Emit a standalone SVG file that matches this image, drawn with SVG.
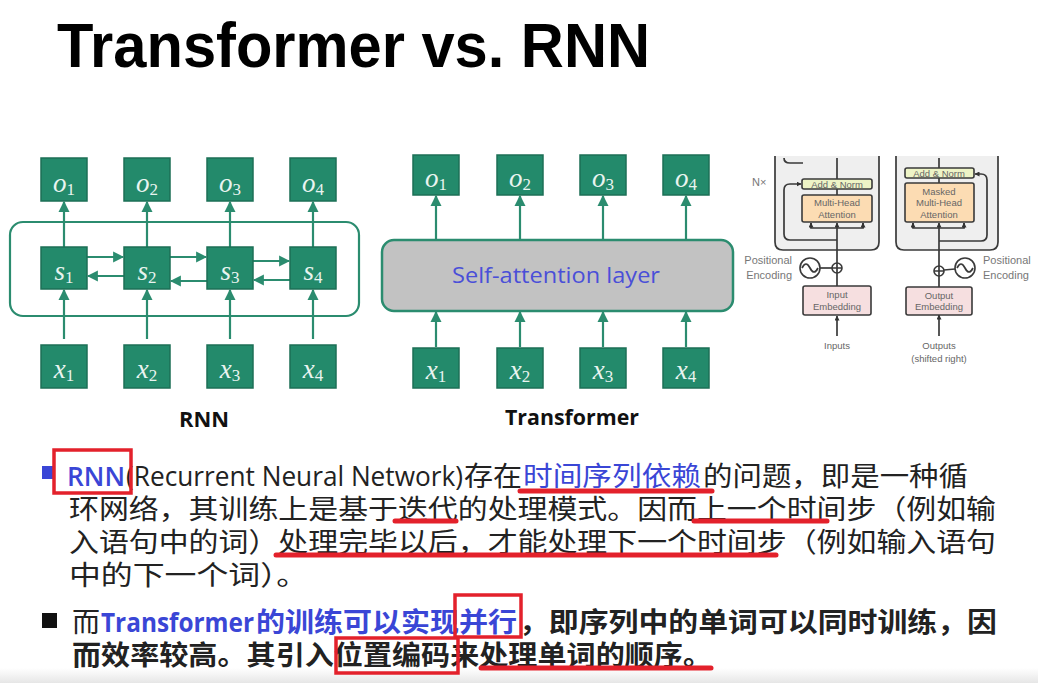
<svg xmlns="http://www.w3.org/2000/svg" width="1038" height="683" viewBox="0 0 1038 683">
<style>
.bx{fill:#238a6b;stroke:#1c6f56;stroke-width:1.5}
.lb{font-family:"Liberation Serif","DejaVu Serif",serif;font-style:italic;font-size:27px;fill:#e9f4f0;text-anchor:middle}
.sub{font-style:normal;font-size:17px}
.cn{stroke:#2b8c6f;stroke-width:2.2;fill:none}
.cap{font-family:"Open Sans","Liberation Sans",sans-serif;font-weight:bold;font-size:21px;fill:#111;text-anchor:middle}
.fg{fill:none;stroke:#3a3a3a;stroke-width:1.7}
.ft{font-family:"Liberation Sans",sans-serif;font-size:9.5px;fill:#666;text-anchor:middle}
.fl{font-family:"Liberation Sans",sans-serif;font-size:11px;fill:#777}
.p{font-family:"Noto Sans CJK SC","Noto Sans",sans-serif;font-size:27px;fill:#222}
.pl{font-family:"Open Sans","Noto Sans",sans-serif;font-size:27px;fill:#222}
.bl{fill:#3a46d6}
.b{font-weight:bold}
.sb{font-weight:600}
.rb{fill:none;stroke:#e3212b;stroke-width:3.5}
.ru{stroke:#e3212b;stroke-width:5;stroke-linecap:round;fill:none}
</style>
<defs>
<marker id="ah" viewBox="0 0 10 10" refX="9" refY="5" markerUnits="userSpaceOnUse" markerWidth="11" markerHeight="13" orient="auto"><path d="M0,0 L10,5 L0,10 z" fill="#2b8c6f"/></marker>
<marker id="sa" viewBox="0 0 10 10" refX="9" refY="5" markerUnits="userSpaceOnUse" markerWidth="5" markerHeight="5" orient="auto"><path d="M0,0 L10,5 L0,10 z" fill="#333"/></marker>
<linearGradient id="bot" x1="0" y1="0" x2="0" y2="1"><stop offset="0" stop-color="#ffffff"/><stop offset="1" stop-color="#e6e6e6"/></linearGradient>
</defs>
<rect width="1038" height="683" fill="#ffffff"/>
<rect x="0" y="668" width="1038" height="15" fill="url(#bot)"/>

<text x="57" y="67" font-family="Liberation Sans,Arial,sans-serif" font-weight="bold" font-size="63" fill="#000" textLength="593" lengthAdjust="spacingAndGlyphs">Transformer vs. RNN</text>

<!-- RNN -->
<g id="rnn-container"><rect x="10" y="222" width="349" height="94" rx="13" fill="none" stroke="#2b8c6f" stroke-width="2.2"/></g>
<g id="connectors">
<line class="cn" x1="64" y1="247" x2="64" y2="202" marker-end="url(#ah)"/>
<line class="cn" x1="147" y1="247" x2="147" y2="202" marker-end="url(#ah)"/>
<line class="cn" x1="230" y1="247" x2="230" y2="202" marker-end="url(#ah)"/>
<line class="cn" x1="313" y1="247" x2="313" y2="202" marker-end="url(#ah)"/>
<line class="cn" x1="64" y1="339" x2="64" y2="290" marker-end="url(#ah)"/>
<line class="cn" x1="147" y1="339" x2="147" y2="290" marker-end="url(#ah)"/>
<line class="cn" x1="230" y1="339" x2="230" y2="290" marker-end="url(#ah)"/>
<line class="cn" x1="313" y1="339" x2="313" y2="290" marker-end="url(#ah)"/>
<line class="cn" x1="87" y1="257" x2="123" y2="257" marker-end="url(#ah)"/>
<line class="cn" x1="170" y1="257" x2="206" y2="257" marker-end="url(#ah)"/>
<line class="cn" x1="253" y1="261" x2="289" y2="261" marker-end="url(#ah)"/>
<line class="cn" x1="124" y1="276" x2="88" y2="276" marker-end="url(#ah)"/>
<line class="cn" x1="207" y1="281" x2="171" y2="281" marker-end="url(#ah)"/>
<line class="cn" x1="290" y1="280" x2="254" y2="280" marker-end="url(#ah)"/>
<line class="cn" x1="436" y1="240" x2="436" y2="196" marker-end="url(#ah)"/>
<line class="cn" x1="520" y1="240" x2="520" y2="196" marker-end="url(#ah)"/>
<line class="cn" x1="603" y1="240" x2="603" y2="196" marker-end="url(#ah)"/>
<line class="cn" x1="686" y1="240" x2="686" y2="196" marker-end="url(#ah)"/>
<line class="cn" x1="436" y1="347" x2="436" y2="312" marker-end="url(#ah)"/>
<line class="cn" x1="520" y1="347" x2="520" y2="312" marker-end="url(#ah)"/>
<line class="cn" x1="603" y1="347" x2="603" y2="312" marker-end="url(#ah)"/>
<line class="cn" x1="686" y1="347" x2="686" y2="312" marker-end="url(#ah)"/>
</g>
<g id="rnn-o1"><rect class="bx" x="41" y="158" width="46" height="43"/><text class="lb" x="64" y="192">o<tspan class="sub" dy="3">1</tspan></text></g>
<g id="rnn-o2"><rect class="bx" x="124" y="158" width="46" height="43"/><text class="lb" x="147" y="192">o<tspan class="sub" dy="3">2</tspan></text></g>
<g id="rnn-o3"><rect class="bx" x="207" y="158" width="46" height="43"/><text class="lb" x="230" y="192">o<tspan class="sub" dy="3">3</tspan></text></g>
<g id="rnn-o4"><rect class="bx" x="290" y="158" width="46" height="43"/><text class="lb" x="313" y="192">o<tspan class="sub" dy="3">4</tspan></text></g>
<g id="rnn-s1"><rect class="bx" x="41" y="247" width="46" height="42"/><text class="lb" x="64" y="280">s<tspan class="sub" dy="3">1</tspan></text></g>
<g id="rnn-s2"><rect class="bx" x="124" y="247" width="46" height="42"/><text class="lb" x="147" y="280">s<tspan class="sub" dy="3">2</tspan></text></g>
<g id="rnn-s3"><rect class="bx" x="207" y="247" width="46" height="42"/><text class="lb" x="230" y="280">s<tspan class="sub" dy="3">3</tspan></text></g>
<g id="rnn-s4"><rect class="bx" x="290" y="247" width="46" height="42"/><text class="lb" x="313" y="280">s<tspan class="sub" dy="3">4</tspan></text></g>
<g id="rnn-x1"><rect class="bx" x="41" y="345" width="46" height="43"/><text class="lb" x="64" y="378">x<tspan class="sub" dy="3">1</tspan></text></g>
<g id="rnn-x2"><rect class="bx" x="124" y="345" width="46" height="43"/><text class="lb" x="147" y="378">x<tspan class="sub" dy="3">2</tspan></text></g>
<g id="rnn-x3"><rect class="bx" x="207" y="345" width="46" height="43"/><text class="lb" x="230" y="378">x<tspan class="sub" dy="3">3</tspan></text></g>
<g id="rnn-x4"><rect class="bx" x="290" y="345" width="46" height="43"/><text class="lb" x="313" y="378">x<tspan class="sub" dy="3">4</tspan></text></g>
<g id="rnn-caption"><text class="cap" x="204" y="427" textLength="50" lengthAdjust="spacingAndGlyphs">RNN</text></g>

<!-- Transformer -->
<g id="tf-o1"><rect class="bx" x="413" y="155" width="46" height="40"/><text class="lb" x="436" y="187">o<tspan class="sub" dy="3">1</tspan></text></g>
<g id="tf-o2"><rect class="bx" x="497" y="155" width="46" height="40"/><text class="lb" x="520" y="187">o<tspan class="sub" dy="3">2</tspan></text></g>
<g id="tf-o3"><rect class="bx" x="580" y="155" width="46" height="40"/><text class="lb" x="603" y="187">o<tspan class="sub" dy="3">3</tspan></text></g>
<g id="tf-o4"><rect class="bx" x="663" y="155" width="46" height="40"/><text class="lb" x="686" y="187">o<tspan class="sub" dy="3">4</tspan></text></g>
<g id="tf-attn"><rect x="382" y="240" width="351" height="71" rx="12" fill="#c2c2c2" stroke="#2b8c6f" stroke-width="2.5"/><text x="556" y="283" font-family="Open Sans,Liberation Sans,sans-serif" font-size="22" fill="#4a4fd8" text-anchor="middle" textLength="208" lengthAdjust="spacingAndGlyphs">Self-attention layer</text></g>
<g id="tf-x1"><rect class="bx" x="413" y="348" width="46" height="40"/><text class="lb" x="436" y="379">x<tspan class="sub" dy="3">1</tspan></text></g>
<g id="tf-x2"><rect class="bx" x="497" y="348" width="46" height="40"/><text class="lb" x="520" y="379">x<tspan class="sub" dy="3">2</tspan></text></g>
<g id="tf-x3"><rect class="bx" x="580" y="348" width="46" height="40"/><text class="lb" x="603" y="379">x<tspan class="sub" dy="3">3</tspan></text></g>
<g id="tf-x4"><rect class="bx" x="663" y="348" width="46" height="40"/><text class="lb" x="686" y="379">x<tspan class="sub" dy="3">4</tspan></text></g>
<g id="tf-caption"><text class="cap" x="572" y="425" textLength="134" lengthAdjust="spacingAndGlyphs">Transformer</text></g>

<!-- Transformer architecture excerpt -->
<g id="enc-stack"><path d="M775,156 L775,242 Q775,250 783,250 L871,250 Q879,250 879,242 L879,156" fill="#efefef" stroke="#3a3a3a" stroke-width="1.7"/></g>
<g id="dec-stack"><path d="M896,156 L896,242 Q896,250 904,250 L990,250 Q998,250 998,242 L998,156" fill="#efefef" stroke="#3a3a3a" stroke-width="1.7"/></g>
<g id="fig-connectors">
<path class="fg" d="M784,158 Q784,163 790,163 L803,163"/>
<line class="fg" x1="837" y1="158" x2="837" y2="179"/>
<line class="fg" x1="837" y1="189" x2="837" y2="195"/>
<line class="fg" x1="837" y1="263" x2="837" y2="228"/>
<line class="fg" x1="837" y1="228" x2="837" y2="223" marker-end="url(#sa)"/>
<path class="fg" d="M837,240 L790,240 Q784,240 784,234 L784,190 Q784,184 790,184 L801,184" marker-end="url(#sa)"/>
<path class="fg" d="M811,223 L811,228 L863,228 L863,223"/>
<line class="fg" x1="811" y1="228" x2="811" y2="223" marker-end="url(#sa)"/>
<line class="fg" x1="863" y1="228" x2="863" y2="223" marker-end="url(#sa)"/>
<line class="fg" x1="837" y1="286" x2="837" y2="273"/>
<line class="fg" x1="820" y1="268" x2="832" y2="268"/>
<line class="fg" x1="837" y1="336" x2="837" y2="316" marker-end="url(#sa)"/>
<line class="fg" x1="939" y1="158" x2="939" y2="168"/>
<line class="fg" x1="939" y1="178" x2="939" y2="183"/>
<line class="fg" x1="939" y1="266" x2="939" y2="228"/>
<line class="fg" x1="939" y1="228" x2="939" y2="223" marker-end="url(#sa)"/>
<path class="fg" d="M939,241 L981,241 Q987,241 987,235 L987,180 Q987,174 981,174 L975,174" marker-end="url(#sa)"/>
<path class="fg" d="M913,223 L913,228 L964,228 L964,223"/>
<line class="fg" x1="913" y1="228" x2="913" y2="223" marker-end="url(#sa)"/>
<line class="fg" x1="964" y1="228" x2="964" y2="223" marker-end="url(#sa)"/>
<line class="fg" x1="939" y1="287" x2="939" y2="276"/>
<line class="fg" x1="944" y1="270" x2="955" y2="269"/>
<line class="fg" x1="939" y1="336" x2="939" y2="315" marker-end="url(#sa)"/>
</g>
<g id="nx"><text class="fl" x="752" y="186">N×</text></g>
<g id="enc-addnorm"><rect x="802" y="179" width="70" height="10" rx="2" fill="#eef4c6" stroke="#3a3a3a" stroke-width="1.6"/><text class="ft" x="837" y="187.5" font-size="9">Add &amp; Norm</text></g>
<g id="enc-mha"><rect x="802" y="195" width="70" height="27" rx="2" fill="#fcdcb3" stroke="#3a3a3a" stroke-width="1.6"/><text class="ft" x="837" y="206">Multi-Head</text><text class="ft" x="837" y="217.5">Attention</text></g>
<g id="enc-pe"><circle cx="810" cy="268" r="10" fill="#fff" stroke="#3a3a3a" stroke-width="1.6"/><path class="fg" d="M802,268 Q806,260 810,268 T818,268"/><circle cx="837" cy="268" r="5" fill="#fff" stroke="#3a3a3a" stroke-width="1.6"/><path class="fg" d="M832,268 H842 M837,263 V273"/><text class="fl" x="792" y="264" text-anchor="end">Positional</text><text class="fl" x="792" y="279" text-anchor="end">Encoding</text></g>
<g id="enc-emb"><rect x="803" y="286" width="68" height="29" rx="2" fill="#f6dfe0" stroke="#3a3a3a" stroke-width="1.6"/><text class="ft" x="837" y="298">Input</text><text class="ft" x="837" y="310">Embedding</text></g>
<g id="inputs"><text class="ft" x="837" y="349" font-size="10.5">Inputs</text></g>
<g id="dec-addnorm"><rect x="905" y="168" width="69" height="10" rx="2" fill="#eef4c6" stroke="#3a3a3a" stroke-width="1.6"/><text class="ft" x="939" y="176.5" font-size="9">Add &amp; Norm</text></g>
<g id="dec-mmha"><rect x="905" y="183" width="69" height="39" rx="2" fill="#fcdcb3" stroke="#3a3a3a" stroke-width="1.6"/><text class="ft" x="939" y="194.5">Masked</text><text class="ft" x="939" y="206">Multi-Head</text><text class="ft" x="939" y="217.5">Attention</text></g>
<g id="dec-pe"><circle cx="965" cy="268" r="10" fill="#fff" stroke="#3a3a3a" stroke-width="1.6"/><path class="fg" d="M957,268 Q961,260 965,268 T973,268"/><circle cx="939" cy="271" r="5" fill="#fff" stroke="#3a3a3a" stroke-width="1.6"/><path class="fg" d="M934,271 H944 M939,266 V276"/><text class="fl" x="983" y="264">Positional</text><text class="fl" x="983" y="279">Encoding</text></g>
<g id="dec-emb"><rect x="906" y="287" width="66" height="28" rx="2" fill="#f6dfe0" stroke="#3a3a3a" stroke-width="1.6"/><text class="ft" x="939" y="298.5">Output</text><text class="ft" x="939" y="310">Embedding</text></g>
<g id="outputs"><text class="ft" x="939" y="349" font-size="10.5">Outputs</text><text class="ft" x="939" y="362" font-size="10.5">(shifted right)</text></g>

<!-- Bullet 1 -->
<g id="bullet1">
<rect x="42" y="466" width="11" height="13" fill="#3a46d6"/>
<text class="pl bl sb" x="67" y="486" textLength="58" lengthAdjust="spacingAndGlyphs">RNN</text>
<text class="pl" x="126" y="486" textLength="337" lengthAdjust="spacingAndGlyphs">(Recurrent Neural Network)</text>
<text class="p" x="464" y="486" textLength="58" lengthAdjust="spacingAndGlyphs">存在</text>
<text class="p bl" x="523" y="486" textLength="178" lengthAdjust="spacingAndGlyphs">时间序列依赖</text>
<text class="p" x="703" y="486" textLength="265" lengthAdjust="spacingAndGlyphs">的问题，即是一种循</text>
<text class="p" x="69" y="519" textLength="927" lengthAdjust="spacingAndGlyphs">环网络，其训练上是基于迭代的处理模式。因而上一个时间步（例如输</text>
<text class="p" x="69" y="552" textLength="927" lengthAdjust="spacingAndGlyphs">入语句中的词）处理完毕以后，才能处理下一个时间步（例如输入语句</text>
<text class="p" x="69" y="585" textLength="239" lengthAdjust="spacingAndGlyphs">中的下一个词）。</text>
</g>
<!-- Bullet 2 -->
<g id="bullet2">
<rect x="42" y="613" width="15" height="15" fill="#111"/>
<text class="p" x="72" y="632" textLength="28" lengthAdjust="spacingAndGlyphs">而</text>
<text class="pl bl b" x="101" y="632" textLength="153" lengthAdjust="spacingAndGlyphs">Transformer</text>
<text class="p bl b" x="256" y="632" textLength="261" lengthAdjust="spacingAndGlyphs">的训练可以实现并行</text>
<text class="p b" x="519" y="632" textLength="478" lengthAdjust="spacingAndGlyphs">，即序列中的单词可以同时训练，因</text>
<text class="p b" x="72" y="665" textLength="640" lengthAdjust="spacingAndGlyphs">而效率较高。其引入位置编码来处理单词的顺序。</text>
</g>
<!-- Red annotations -->
<g id="annotations">
<rect class="rb" x="54" y="450" width="77" height="43"/>
<rect class="rb" x="455" y="595" width="66" height="42"/>
<rect class="rb" x="336" y="638" width="122" height="35"/>
<line class="ru" x1="520" y1="491" x2="712" y2="491"/>
<line class="ru" x1="395" y1="521" x2="456" y2="521"/>
<line class="ru" x1="694" y1="521" x2="827" y2="521"/>
<line class="ru" x1="276" y1="555" x2="776" y2="555"/>
<line class="ru" x1="481" y1="668" x2="711" y2="668"/>
</g>
</svg>
